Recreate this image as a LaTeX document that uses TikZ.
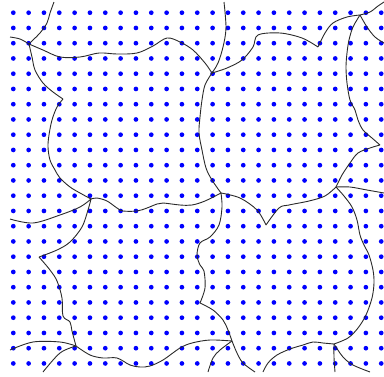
\documentclass[tikz,border=0pt]{standalone}
\usepackage{xcolor}
\usepackage{tikz}
\definecolor{figBlue}{HTML}{0000FF}
\definecolor{figGray}{HTML}{2A2A2A}

\begin{document}
\begin{tikzpicture}[
  x=1pt, y=-1pt,
  site/.style={fill=figBlue},
  edge/.style={draw=figGray, line width=0.9pt, line join=round},
  cut/.style={smooth, tension=0.55},
]
\useasboundingbox (0,0) rectangle (384,376);

% Sites
\foreach \i in {0,...,24}
  \foreach \j in {0,...,23}
    \fill[site] ({13.3+15.33*\i},{12.7+15.25*\j}) circle (2.35pt);

% Junctions and cusps
\coordinate (j1) at (29,44);
\coordinate (j2) at (212,73);
\coordinate (j3) at (91,199);
\coordinate (j4) at (360,15);
\coordinate (j5) at (334,344);
\coordinate (j6) at (221,193);
\coordinate (j7) at (200,303);
\coordinate (j8) at (232,341);
\coordinate (j9) at (76,346);
\coordinate (j11) at (336,187);
\coordinate (c1) at (63,99);
\coordinate (c2) at (318,47);
\coordinate (c3) at (380,145);
\coordinate (c4) at (266,225);
\coordinate (c5) at (39,257);

% Top row of cells
\draw[edge] plot[cut] coordinates {(j1) (33,40) (40,33) (47,23) (50,13) (54,2)};
\draw[edge] plot[cut] coordinates {(j1) (20,39) (10,37)};
\draw[edge] plot[cut] coordinates {(j1) (43,50) (60,57) (80,57) (99,53) (117,54)
  (137,53) (153,46) (167,38) (180,42) (193,50) (205,63) (j2)};
\draw[edge] plot[cut] coordinates {(j1) (32,57) (35,70) (43,83) (53,92) (c1)}
  plot[cut] coordinates {(c1) (57,107) (52,120) (49,135) (48,147) (50,160)
  (55,170) (60,178) (70,187) (80,193) (j3)};
\draw[edge] plot[cut] coordinates {(j2) (218,63) (223,47) (226,28) (224,2)};
\draw[edge] plot[cut] coordinates {(j2) (227,68) (242,60) (253,47) (258,35)
  (280,33) (302,38) (c2)}
  plot[cut] coordinates {(c2) (325,33) (333,23) (347,17) (j4)};
\draw[edge] plot[cut] coordinates {(j2) (205,85) (202,100) (200,117) (199,133)
  (202,150) (206,168) (212,180) (j6)};
\draw[edge] plot[cut] coordinates {(j4) (370,12) (378,6) (384,2)};
\draw[edge] plot[cut] coordinates {(j4) (367,27) (375,37) (384,43)};
\draw[edge] plot[cut] coordinates {(j4) (353,27) (349,40) (347,53) (346,67)
  (347,83) (350,100) (355,110) (358,120) (363,130) (372,138) (c3)}
  plot[cut] coordinates {(c3) (370,148) (358,153) (350,163) (342,175) (j11)};

% Middle row of cells
\draw[edge] plot[cut] coordinates {(j3) (80,207) (60,215) (33,223) (10,219)};
\draw[edge] plot[cut] coordinates {(j3) (97,198) (107,201) (117,208) (123,211)
  (137,211) (147,208) (157,204) (163,203) (180,205) (192,205) (205,201) (j6)};
\draw[edge] plot[cut] coordinates {(j3) (88,210) (82,227) (70,242) (57,250) (c5)}
  plot[cut] coordinates {(c5) (50,270) (57,281) (62,298) (63,316) (70,322)
  (72,331) (j9)};
\draw[edge] plot[cut] coordinates {(j6) (240,198) (257,210) (c4)}
  plot[cut] coordinates {(c4) (279,208) (289,205) (309,201) (325,196) (j11)};
\draw[edge] plot[cut] coordinates {(j6) (222,207) (219,225) (210,237) (200,243)
  (197,255) (200,265) (204,271) (205,288) (j7)};
\draw[edge] plot[cut] coordinates {(j7) (213,310) (223,320) (228,330) (j8)};
\draw[edge] plot[cut] coordinates {(j11) (350,187) (367,190) (384,193)};
\draw[edge] plot[cut] coordinates {(j11) (344,196) (352,207) (357,220) (360,235)
  (364,245) (369,255) (373,270) (374,283) (372,298) (366,315) (358,328)
  (348,338) (j5)};

% Bottom row of cells
\draw[edge] plot[cut] coordinates {(j8) (210,340) (192,343) (180,348) (163,360)
  (150,366) (140,367) (130,365) (117,358) (103,358) (90,355) (j9)};
\draw[edge] plot[cut] coordinates {(j8) (220,350) (213,358) (208,372)};
\draw[edge] plot[cut] coordinates {(j8) (237,353) (243,363) (255,372)};
\draw[edge] plot[cut] coordinates {(j9) (60,342) (33,342) (10,350)};
\draw[edge] plot[cut] coordinates {(j9) (60,353) (43,372)};
\draw[edge] plot[cut] coordinates {(j5) (323,343) (313,342) (303,345) (290,349)
  (277,355) (268,363) (263,372)};
\draw[edge] plot[cut] coordinates {(j5) (334,357) (335,372)};
\draw[edge] plot[cut] coordinates {(j5) (343,357) (353,365) (370,372)};

\end{tikzpicture}
\end{document}
